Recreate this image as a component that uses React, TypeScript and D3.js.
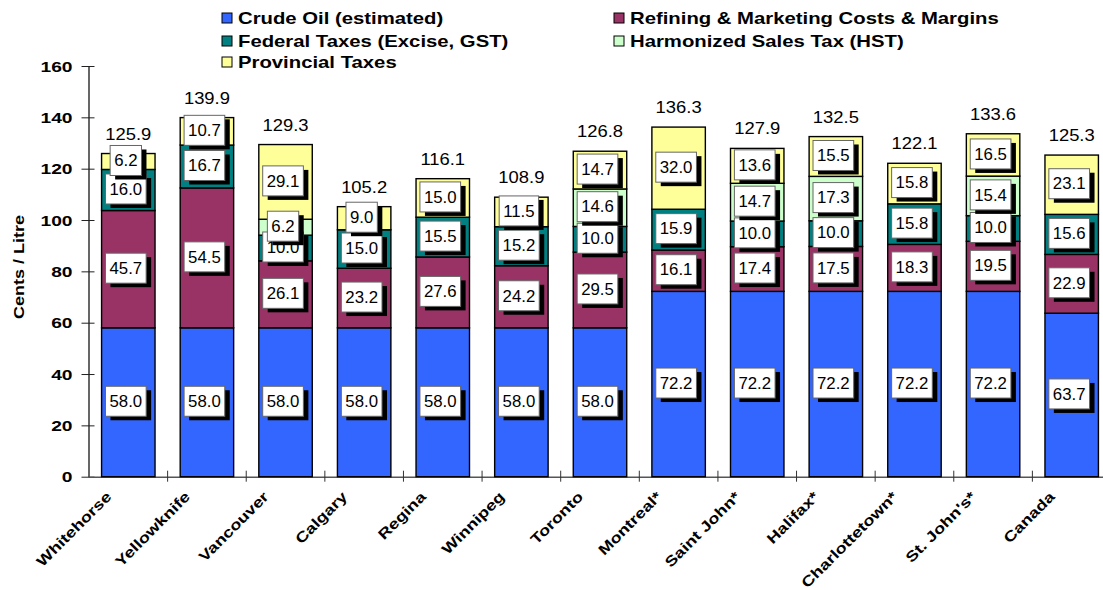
import * as d3 from "d3";
import { useEffect, useRef } from "react";

const width = 1103;
const height = 590;
const fontFamily = "'Liberation Sans', Arial, sans-serif";

const cities = [
  "Whitehorse",
  "Yellowknife",
  "Vancouver",
  "Calgary",
  "Regina",
  "Winnipeg",
  "Toronto",
  "Montreal*",
  "Saint John*",
  "Halifax*",
  "Charlottetown*",
  "St. John's*",
  "Canada",
];
const crudeOil = [58.0, 58.0, 58.0, 58.0, 58.0, 58.0, 58.0, 72.2, 72.2, 72.2, 72.2, 72.2, 63.7];
const refining = [45.7, 54.5, 26.1, 23.2, 27.6, 24.2, 29.5, 16.1, 17.4, 17.5, 18.3, 19.5, 22.9];
const federalTaxes = [16.0, 16.7, 10.0, 15.0, 15.5, 15.2, 10.0, 15.9, 10.0, 10.0, 15.8, 10.0, 15.6];
const hst = [0, 0, 6.2, 0, 0, 0, 14.6, 0, 14.7, 17.3, 0, 15.4, 0];
const provincialTaxes = [6.2, 10.7, 29.1, 9.0, 15.0, 11.5, 14.7, 32.0, 13.6, 15.5, 15.8, 16.5, 23.1];
const totals = [125.9, 139.9, 129.3, 105.2, 116.1, 108.9, 126.8, 136.3, 127.9, 132.5, 122.1, 133.6, 125.3];
const yTicks = [0, 20, 40, 60, 80, 100, 120, 140, 160];

const seriesKeys = ["crude", "refining", "federal", "hst", "provincial"];
const seriesLabels = [
  "Crude Oil (estimated)",
  "Refining & Marketing Costs & Margins",
  "Federal Taxes (Excise, GST)",
  "Harmonized Sales Tax (HST)",
  "Provincial Taxes",
];
const seriesColors = ["#3366ff", "#993366", "#008080", "#ccffcc", "#ffff99"];

const margin = { top: 66, left: 89, right: 1111, bottom: 476.7 };

export default function App() {
  const svgRef = useRef<SVGSVGElement | null>(null);

  useEffect(() => {
    if (!svgRef.current) return;
    drawChart(svgRef.current);
  }, []);

  return (
    <svg
      ref={svgRef}
      width={width}
      height={height}
      style={{ position: "absolute", left: 0, top: 0, display: "block", background: "#ffffff" }}
    />
  );
}

function drawChart(svgElement: SVGSVGElement) {
  const svg = d3.select(svgElement);
  svg.selectAll("*").remove();

  const rows = cities.map((city, i) => ({
    city,
    crude: crudeOil[i],
    refining: refining[i],
    federal: federalTaxes[i],
    hst: hst[i],
    provincial: provincialTaxes[i],
  }));

  const stacked = d3.stack<any>().keys(seriesKeys)(rows);

  const x = d3
    .scaleBand<string>()
    .domain(cities)
    .range([margin.left, margin.right])
    .paddingInner(0.32)
    .paddingOuter(0.16);

  const y = d3.scaleLinear().domain([0, 160]).range([margin.bottom, margin.top]);

  const gap = x.step() - x.bandwidth();

  // y axis
  const yAxis = svg
    .append("g")
    .attr("transform", `translate(${margin.left - 0.5}, 0)`)
    .call(d3.axisLeft(y).tickValues(yTicks).tickSizeOuter(0).tickSizeInner(6));
  yAxis.select(".domain").attr("stroke", "#000").attr("stroke-width", 1.2);
  yAxis.selectAll(".tick line").attr("x1", 6).attr("x2", -7).attr("stroke", "#222");
  yAxis
    .selectAll(".tick text")
    .attr("x", 0)
    .attr("dy", "0.34em")
    .attr("transform", "translate(-16, 0) scale(1.28, 1)")
    .attr("fill", "#000")
    .style("font-family", fontFamily)
    .style("font-size", "15px")
    .style("font-weight", "700");

  // x axis line + ticks between categories
  const xAxis = svg
    .append("g")
    .attr("transform", `translate(0, ${margin.bottom})`)
    .call(d3.axisBottom(x).tickSize(0).tickSizeOuter(0).tickFormat(() => ""));
  xAxis.selectAll(".tick").remove();
  xAxis.select(".domain").attr("stroke", "#555").attr("stroke-width", 1.6);

  xAxis
    .selectAll("line.boundary")
    .data(cities.slice(1))
    .join("line")
    .attr("class", "boundary")
    .attr("x1", (d) => (x(d) as number) - gap / 2)
    .attr("x2", (d) => (x(d) as number) - gap / 2)
    .attr("y1", -6)
    .attr("y2", 5)
    .attr("stroke", "#333")
    .attr("stroke-width", 1);

  // bars
  const layers = svg
    .append("g")
    .selectAll("g")
    .data(stacked)
    .join("g")
    .attr("fill", (_, i) => seriesColors[i]);

  layers
    .selectAll("rect")
    .data((d) => d.filter((seg) => seg[1] - seg[0] > 0))
    .join("rect")
    .attr("x", (seg: any) => x(seg.data.city) as number)
    .attr("width", x.bandwidth())
    .attr("y", (seg) => y(seg[1]))
    .attr("height", (seg) => y(seg[0]) - y(seg[1]))
    .attr("stroke", "#000")
    .attr("stroke-width", 1.4);

  // segment value boxes
  const labelLayer = svg.append("g");
  stacked.forEach((layer) => {
    layer.forEach((seg: any) => {
      const value = seg[1] - seg[0];
      if (value <= 0) return;
      const cx = (x(seg.data.city) as number) + x.bandwidth() / 2 - 2.5;
      const cy = y((seg[0] + seg[1]) / 2) - 1;
      const g = labelLayer.append("g").attr("transform", `translate(${cx}, ${cy})`);
      const shadow = g.append("rect").attr("fill", "#000");
      const box = g.append("rect").attr("fill", "#fff").attr("stroke", "#666").attr("stroke-width", 1);
      const text = g
        .append("text")
        .attr("text-anchor", "middle")
        .attr("dy", "0.36em")
        .attr("transform", "scale(1.05, 1)")
        .attr("fill", "#000")
        .style("font-family", fontFamily)
        .style("font-size", "16px")
        .text(value.toFixed(1));
      const textWidth = (text.node() as SVGTextElement).getComputedTextLength() * 1.05;
      const boxWidth = textWidth + 8;
      const boxHeight = 30;
      box
        .attr("x", -boxWidth / 2)
        .attr("y", -boxHeight / 2)
        .attr("width", boxWidth)
        .attr("height", boxHeight);
      shadow
        .attr("x", -boxWidth / 2 + 5)
        .attr("y", -boxHeight / 2 + 4)
        .attr("width", boxWidth)
        .attr("height", boxHeight);
    });
  });

  // totals
  const topOf = (i: number) => stacked[stacked.length - 1][i][1];
  svg
    .append("g")
    .selectAll("text")
    .data(cities)
    .join("text")
    .attr("text-anchor", "middle")
    .attr(
      "transform",
      (d, i) => `translate(${(x(d) as number) + x.bandwidth() / 2}, ${y(topOf(i)) - 14}) scale(1.15, 1)`
    )
    .attr("fill", "#000")
    .style("font-family", fontFamily)
    .style("font-size", "16px")
    .text((_, i) => totals[i].toFixed(1));

  // category labels
  svg
    .append("g")
    .selectAll("text")
    .data(cities)
    .join("text")
    .attr("text-anchor", "end")
    .attr(
      "transform",
      (d) => `translate(${(x(d) as number) + x.bandwidth() / 2 - 16}, ${margin.bottom + 21}) rotate(-45) scale(1.25, 1)`
    )
    .attr("fill", "#000")
    .style("font-family", fontFamily)
    .style("font-size", "14.5px")
    .style("font-weight", "700")
    .text((d) => d);

  // y axis title
  svg
    .append("text")
    .attr("text-anchor", "middle")
    .attr("dy", "0.35em")
    .attr("transform", `translate(19, 267) rotate(-90) scale(1.2, 1)`)
    .attr("fill", "#000")
    .style("font-family", fontFamily)
    .style("font-size", "15px")
    .style("font-weight", "700")
    .text("Cents / Litre");

  // legend
  const legendCols = [222, 614];
  const legendRows = [18, 41, 62];
  const legend = svg
    .append("g")
    .selectAll("g")
    .data(seriesLabels)
    .join("g")
    .attr("transform", (_, i) => `translate(${legendCols[i % 2]}, ${legendRows[Math.floor(i / 2)]})`);

  legend
    .append("rect")
    .attr("x", 0)
    .attr("y", -5)
    .attr("width", 10)
    .attr("height", 10)
    .attr("fill", (_, i) => seriesColors[i])
    .attr("stroke", "#000")
    .attr("stroke-width", 1);

  legend
    .append("text")
    .attr("dy", "0.36em")
    .attr("transform", "translate(16, 0) scale(1.27, 1)")
    .attr("fill", "#000")
    .style("font-family", fontFamily)
    .style("font-size", "16px")
    .style("font-weight", "700")
    .text((d) => d);
}
